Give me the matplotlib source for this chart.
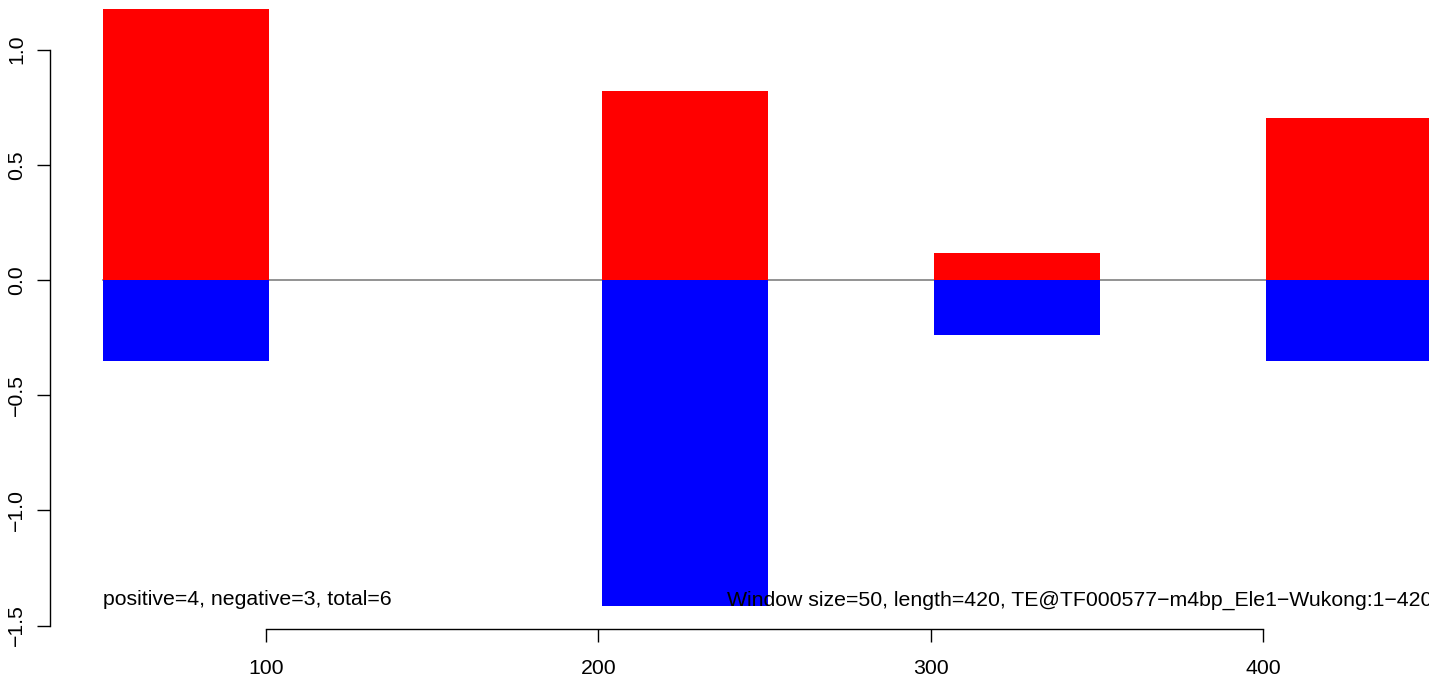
import matplotlib
matplotlib.use("Agg")
import matplotlib.pyplot as plt
from matplotlib.patches import Rectangle

# Data
window_starts = [51, 201, 301, 401]
window_size = 50
positive_vals = [1.20, 0.82, 0.117, 0.703]
negative_vals = [-0.351, -1.414, -0.238, -0.351]
x_ticks = [100, 200, 300, 400]
y_ticks = [-1.5, -1.0, -0.5, 0.0, 0.5, 1.0]
left_text = "positive=4, negative=3, total=6"
right_text = "Window size=50, length=420, TE@TF000577\u2212m4bp_Ele1\u2212Wukong:1\u2212420"

plt.rcParams['font.family'] = ['Liberation Sans', 'DejaVu Sans']

W, H = 1429, 676
fig = plt.figure(figsize=(W / 100, H / 100), dpi=100)
left_px, right_px, top_px, bottom_px = 50, 1429, 9, 629
ax = fig.add_axes([left_px / W, (H - bottom_px) / H,
                   (right_px - left_px) / W, (bottom_px - top_px) / H])
ax.set_xlim(35, 450)
ax.set_ylim(-1.515, 1.176)

# zero line
ax.plot([window_starts[0], 460], [0, 0], color='#808080', lw=1.2, zorder=1)

for s, p, n in zip(window_starts, positive_vals, negative_vals):
    ax.add_patch(Rectangle((s, 0), window_size, p, facecolor='#FF0000',
                           edgecolor='none', zorder=2))
    ax.add_patch(Rectangle((s, 0), window_size, n, facecolor='#0000FF',
                           edgecolor='none', zorder=2))

fs = 15.3
ax.text(window_starts[0], -1.389, left_text, fontsize=fs, ha='left', va='center', zorder=3)
ax.text(451, -1.389, right_text, fontsize=fs, ha='right', va='center', zorder=3,
        clip_on=False)

ax.set_xticks(x_ticks)
ax.set_xticklabels([str(v) for v in x_ticks])
ax.set_yticks(y_ticks)
ax.set_yticklabels([f"{v:.1f}".replace('-', '\u2212') for v in y_ticks],
                   rotation=90, va='center')
ax.tick_params(axis='both', direction='out', length=9.2, width=1.0,
               labelsize=fs, colors='black')
ax.tick_params(axis='y', pad=8)
ax.tick_params(axis='x', pad=12.5)

for side in ['top', 'right']:
    ax.spines[side].set_visible(False)
ax.spines['left'].set_bounds(-1.5, 1.0)
ax.spines['bottom'].set_bounds(100, 400)
ax.spines['left'].set_linewidth(1.0)
ax.spines['bottom'].set_linewidth(1.0)

fig.savefig('out.png', dpi=100)
